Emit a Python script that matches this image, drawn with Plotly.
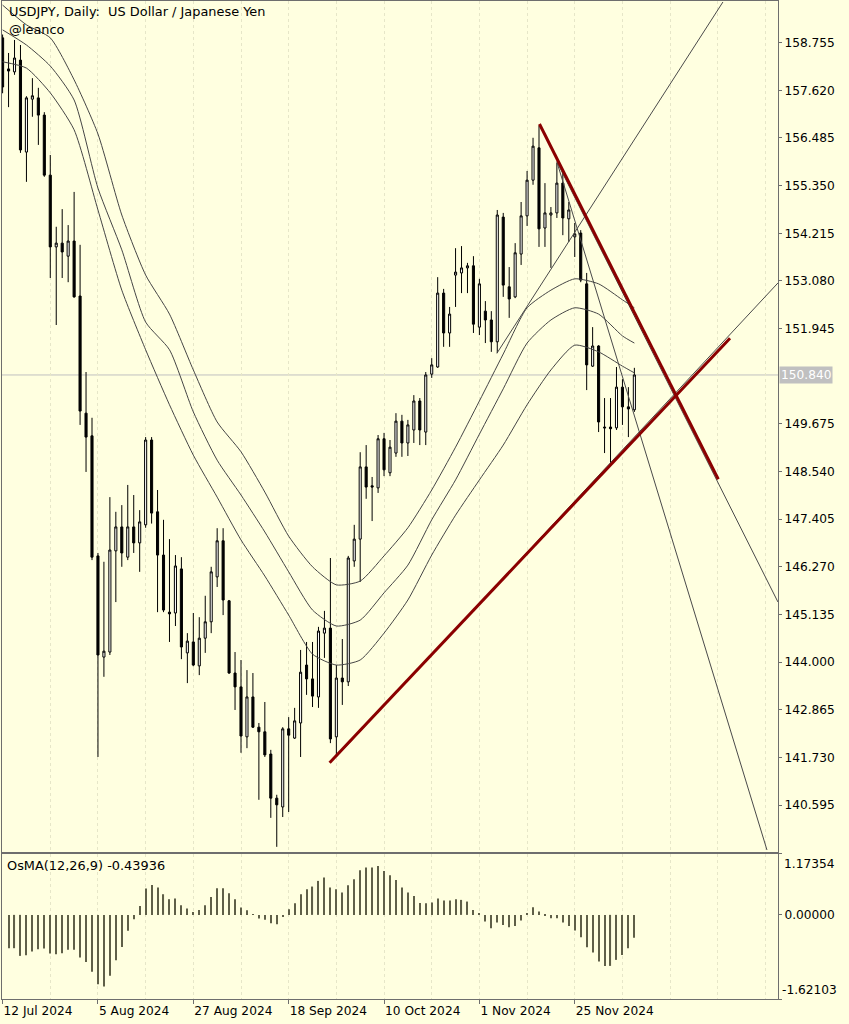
import plotly.graph_objects as go

# ---------------- data ----------------
symbol_title = "USDJPY, Daily:  US Dollar / Japanese Yen"
author = "@leanco"
osma_title = "OsMA(12,26,9) -0.43936"

x_tick_bars = [0, 16, 32, 48, 64, 80, 96]
x_tick_labels = ["12 Jul 2024", "5 Aug 2024", "27 Aug 2024", "18 Sep 2024",
                 "10 Oct 2024", "1 Nov 2024", "25 Nov 2024"]
price_ticks = [158.755, 157.620, 156.485, 155.350, 154.215, 153.080, 151.945,
               149.675, 148.540, 147.405, 146.270, 145.135, 144.000, 142.865,
               141.730, 140.595]
current_price = 150.840
osma_max = 1.17354
osma_min = -1.62103

opens = [158.87, 158.13, 158.06, 158.34, 156.15, 157.41, 157.44, 157.03, 155.60, 153.89,
         153.98, 153.67, 154.03, 152.72, 149.93, 149.39, 146.53, 144.12, 144.24, 146.65,
         147.22, 146.50, 147.22, 146.84, 147.27, 149.29, 147.58, 146.55, 145.19, 145.17,
         146.22, 144.22, 144.48, 143.91, 144.57, 144.96, 146.03, 146.89, 145.46, 143.74,
         143.41, 142.22, 143.17, 142.45, 142.34, 141.81, 140.76, 140.55, 142.41, 142.19,
         142.55, 143.93, 143.60, 143.17, 144.69, 144.81, 142.22, 143.62, 143.53, 146.41,
         146.93, 148.65, 148.20, 148.15, 149.32, 148.51, 148.98, 149.74, 149.22, 149.53,
         150.22, 149.48, 150.86, 151.03, 152.79, 151.84, 153.22, 153.27, 153.39, 153.44,
         151.98, 152.36, 152.15, 151.63, 154.60, 152.94, 152.70, 153.72, 154.63, 155.48,
         156.25, 154.34, 154.65, 154.70, 155.41, 154.56, 154.13, 154.22, 153.01, 151.05,
         151.53, 149.60, 149.60, 149.58, 150.55, 150.08, 150.01]
highs = [158.95, 158.51, 158.82, 158.70, 157.48, 157.91, 157.68, 157.10, 156.08, 154.37,
         154.79, 154.41, 155.20, 153.94, 150.91, 149.82, 146.60, 146.39, 147.93, 147.58,
         147.74, 148.22, 147.98, 147.62, 149.36, 149.36, 148.10, 147.39, 146.93, 146.55,
         146.50, 144.69, 145.17, 145.07, 145.58, 146.27, 147.19, 147.19, 145.48, 144.24,
         144.05, 143.81, 143.74, 142.55, 143.05, 141.91, 140.84, 142.45, 142.69, 142.91,
         144.29, 144.48, 144.48, 144.84, 145.22, 146.48, 143.93, 144.55, 146.53, 147.27,
         149.00, 149.17, 148.41, 149.41, 149.46, 149.29, 149.93, 149.89, 149.77, 150.36,
         150.29, 150.91, 151.24, 153.17, 152.89, 152.46, 153.86, 153.91, 153.51, 153.67,
         153.13, 152.60, 152.36, 154.77, 154.70, 153.41, 153.98, 154.96, 155.70, 156.49,
         156.78, 155.41, 154.84, 155.89, 155.68, 154.96, 154.46, 154.29, 153.27, 151.98,
         151.55, 150.29, 150.29, 151.03, 150.74, 150.55, 151.01]
lows = [157.55, 157.22, 157.99, 156.13, 155.44, 156.99, 156.32, 155.56, 153.15, 152.03,
        153.15, 153.05, 152.68, 149.65, 148.53, 146.43, 141.74, 143.65, 144.17, 145.43,
        146.27, 146.43, 146.60, 146.15, 147.20, 147.30, 145.19, 145.19, 144.48, 144.86,
        144.07, 143.50, 143.90, 143.69, 144.22, 144.69, 145.79, 145.12, 143.72, 142.86,
        141.84, 141.95, 142.43, 140.72, 141.74, 140.29, 139.60, 140.31, 140.43, 142.17,
        141.74, 143.22, 142.93, 142.91, 144.10, 142.07, 141.79, 142.98, 143.43, 146.27,
        145.91, 147.89, 147.36, 148.03, 148.43, 148.43, 148.89, 148.89, 148.91, 149.22,
        149.17, 149.17, 150.77, 151.01, 151.51, 151.51, 152.46, 152.79, 152.79, 151.84,
        151.79, 151.60, 151.39, 151.36, 152.70, 152.20, 152.67, 153.46, 154.39, 155.37,
        153.89, 153.89, 153.39, 154.58, 154.17, 154.01, 153.65, 153.05, 150.48, 151.03,
        149.48, 148.98, 148.74, 149.53, 149.65, 149.36, 149.96]
closes = [157.70, 158.08, 158.39, 156.20, 157.44, 157.49, 157.03, 155.60, 153.89, 153.98,
          153.77, 154.03, 152.70, 149.98, 149.36, 146.50, 144.17, 144.26, 146.67, 147.22,
          146.60, 147.22, 146.84, 147.34, 149.29, 147.55, 146.55, 145.24, 145.15, 146.29,
          144.36, 144.50, 143.93, 144.57, 144.96, 146.15, 146.89, 145.48, 143.74, 143.41,
          142.24, 143.17, 142.45, 142.34, 141.79, 140.76, 140.60, 142.41, 142.26, 142.60,
          143.76, 143.60, 143.19, 144.74, 144.81, 142.17, 143.62, 143.53, 146.48, 146.93,
          148.65, 148.17, 148.17, 149.32, 148.58, 149.12, 149.74, 149.22, 149.65, 150.22,
          149.53, 150.84, 151.08, 152.79, 151.84, 152.29, 153.29, 153.39, 153.44, 152.05,
          153.01, 152.15, 151.63, 154.65, 152.98, 152.65, 153.75, 154.63, 155.48, 156.29,
          154.32, 154.70, 154.70, 155.41, 154.58, 154.77, 154.20, 153.10, 151.08, 151.53,
          149.72, 149.58, 149.56, 150.55, 150.08, 150.03, 150.84]

# moving-average envelope lines, read at every 4th bar
ma_bars = [0, 4, 8, 12, 16, 20, 24, 28, 32, 36, 40, 44, 48, 52, 56, 60, 64, 68, 72,
           76, 80, 84, 88, 92, 96, 100, 104, 106]
ma_upper = [159.65, 159.18, 158.87, 157.87, 156.58, 154.65, 153.22, 152.29, 150.96, 149.72,
            149.01, 148.05, 147.00, 146.27, 145.84, 145.93, 146.53, 147.20, 148.10, 149.12,
            150.22, 151.34, 152.44, 152.86, 153.13, 153.01, 152.63, 152.44]
ma_middle = [159.06, 158.70, 158.20, 157.39, 155.29, 153.82, 152.10, 151.44, 149.96, 148.81,
             147.98, 147.10, 146.15, 145.24, 144.86, 145.00, 145.65, 146.31, 147.39, 148.34,
             149.43, 150.51, 151.60, 152.15, 152.44, 152.29, 151.77, 151.60]
ma_lower = [158.30, 158.15, 157.56, 156.68, 154.77, 152.86, 151.44, 150.13, 148.93, 147.93,
            146.91, 146.05, 145.12, 144.19, 143.93, 144.05, 144.69, 145.48, 146.55, 147.50,
            148.34, 149.17, 150.13, 150.96, 151.55, 151.39, 151.05, 150.89]

# OsMA histogram (bars 1..106)
osma_values = [-0.642, -0.642, -0.790, -0.777, -0.706, -0.660, -0.649, -0.745, -0.758, -0.739,
               -0.674, -0.674, -0.822, -0.906, -1.098, -1.336, -1.381, -1.175, -0.873, -0.617,
               -0.308, -0.083, 0.173, 0.507, 0.578, 0.527, 0.398, 0.302, 0.315, 0.186,
               0.122, 0.058, 0.096, 0.186, 0.347, 0.514, 0.514, 0.417, 0.302, 0.141,
               0.090, 0.005, -0.071, -0.096, -0.161, -0.180, -0.040, 0.109, 0.225, 0.398,
               0.495, 0.546, 0.655, 0.719, 0.527, 0.495, 0.430, 0.572, 0.687, 0.861,
               0.912, 0.912, 0.944, 0.848, 0.764, 0.674, 0.527, 0.430, 0.366, 0.230,
               0.225, 0.238, 0.315, 0.276, 0.276, 0.302, 0.289, 0.257, 0.096, 0.032,
               -0.128, -0.257, -0.148, -0.193, -0.238, -0.212, -0.109, 0.032, 0.148, 0.064,
               -0.005, -0.064, -0.064, -0.148, -0.212, -0.302, -0.430, -0.623, -0.726, -0.899,
               -0.983, -0.983, -0.867, -0.771, -0.642, -0.43936]

# trend lines: (bar, price) start and end
red_line_1 = ([90.08, 120.08], [156.818, 148.355])
red_line_2 = ([54.87, 122.05], [141.604, 151.713])
thin_lines = [
    ([82.93, 120.86], [151.356, 159.724]),
    ([92.99, 128.25], [155.920, 139.524]),
    ([92.99, 130.09], [155.920, 145.432]),
    ([55.99, 130.09], [141.739, 153.031]),
]

# ---------------- styling ----------------
BG = "#FFFFE0"
FRAME = "#6e6e6e"
GRID = "#e6e6c8"
FONT = "DejaVu Sans"
FS = 12.2
FS_TITLE = 12.9

bars = list(range(len(opens)))
osma_bars = list(range(1, len(osma_values) + 1))
x_range = [-0.1, 130.1]

fig = go.Figure()

for xs, ys in thin_lines:
    fig.add_trace(go.Scatter(x=xs, y=ys, mode="lines", line=dict(color="#4a4a4a", width=1),
                             xaxis="x2", yaxis="y", hoverinfo="skip", showlegend=False))

for ys in (ma_upper, ma_middle, ma_lower):
    fig.add_trace(go.Scatter(x=ma_bars, y=ys, mode="lines",
                             line=dict(color="#454545", width=1, shape="spline", smoothing=0.6),
                             xaxis="x2", yaxis="y", hoverinfo="skip", showlegend=False))

fig.add_trace(go.Candlestick(
    x=bars, open=opens, high=highs, low=lows, close=closes,
    increasing=dict(line=dict(color="#000000", width=1), fillcolor="#ffffff"),
    decreasing=dict(line=dict(color="#000000", width=1), fillcolor="#000000"),
    whiskerwidth=0, xaxis="x2", yaxis="y", hoverinfo="skip", showlegend=False))

for xs, ys in (red_line_1, red_line_2):
    fig.add_trace(go.Scatter(x=xs, y=ys, mode="lines", line=dict(color="#8b0000", width=3),
                             xaxis="x2", yaxis="y", hoverinfo="skip", showlegend=False))

fig.add_trace(go.Bar(x=osma_bars, y=osma_values, width=0.18,
                     marker=dict(color="#5f5f48", line=dict(width=0)),
                     xaxis="x", yaxis="y2", hoverinfo="skip", showlegend=False))

axis_common = dict(showline=True, linecolor=FRAME, linewidth=1, mirror=True,
                   zeroline=False, fixedrange=True)
xgrid = dict(showgrid=True, gridcolor=GRID, griddash="dot", gridwidth=1,
             minor=dict(tickmode="linear", tick0=0, dtick=8, showgrid=True,
                        gridcolor=GRID, griddash="dot", ticks=""))

fig.update_layout(
    width=849, height=1024,
    margin=dict(l=2, r=71, t=1, b=25),
    paper_bgcolor=BG, plot_bgcolor=BG,
    font=dict(family=FONT, size=FS, color="#000000"),
    boxgap=0.5,
    xaxis=dict(domain=[0, 1], anchor="y2", range=x_range, tickmode="array",
               tickvals=x_tick_bars, ticktext=x_tick_labels, ticks="outside", ticklen=4,
               tickcolor=FRAME, ticklabelposition="outside right",
               rangeslider=dict(visible=False), **axis_common, **xgrid),
    xaxis2=dict(domain=[0, 1], anchor="y", matches="x", showticklabels=False,
                tickvals=x_tick_bars, ticks="", rangeslider=dict(visible=False),
                **axis_common, **xgrid),
    yaxis=dict(domain=[0.1476, 1], anchor="x2", side="right", range=[139.484, 159.748],
               tickmode="array", tickvals=price_ticks,
               ticktext=[f"{v:.3f}" for v in price_ticks], ticks="outside", ticklen=3,
               tickcolor=FRAME, showgrid=False, **axis_common),
    yaxis2=dict(domain=[0, 0.1453], anchor="x", side="right", range=[osma_min, osma_max],
                tickmode="array", tickvals=[osma_max, 0, osma_min],
                ticktext=["", f"{0:.5f}", ""], ticks="outside", ticklen=3,
                tickcolor=FRAME, showgrid=False, **axis_common),
    shapes=[dict(type="line", xref="x2 domain", x0=0, x1=1, yref="y",
                 y0=current_price, y1=current_price, line=dict(color="#c0c0c0", width=1),
                 layer="below")],
    annotations=[
        dict(text=symbol_title, xref="paper", x=0, xanchor="left", xshift=5,
             yref="paper", y=1, yanchor="top", yshift=-1, showarrow=False,
             font=dict(size=FS_TITLE)),
        dict(text=author, xref="paper", x=0, xanchor="left", xshift=5,
             yref="paper", y=1, yanchor="top", yshift=-19, showarrow=False,
             font=dict(size=FS_TITLE)),
        dict(text=osma_title, xref="paper", x=0, xanchor="left", xshift=3,
             yref="y2 domain", y=1, yanchor="top", yshift=-2, showarrow=False,
             font=dict(size=FS_TITLE)),
        dict(text=f"{osma_max:.5f}", xref="paper", x=1, xanchor="left", xshift=4,
             yref="y2 domain", y=1, yanchor="top", yshift=-1, showarrow=False),
        dict(text=f"{osma_min:.5f}", xref="paper", x=1, xanchor="left", xshift=2,
             yref="y2 domain", y=0, yanchor="bottom", yshift=0, showarrow=False),
        dict(text=f"{current_price:.3f}", xref="paper", x=1, xanchor="left", xshift=1,
             yref="y", y=current_price, yanchor="middle", showarrow=False,
             bgcolor="#c0c0c0", font=dict(color="#ffffff"), borderpad=1),
    ],
)

fig.write_html("out.html", config={"displayModeBar": False},
               post_script="document.body.style.margin='0';document.body.style.padding='0';")
